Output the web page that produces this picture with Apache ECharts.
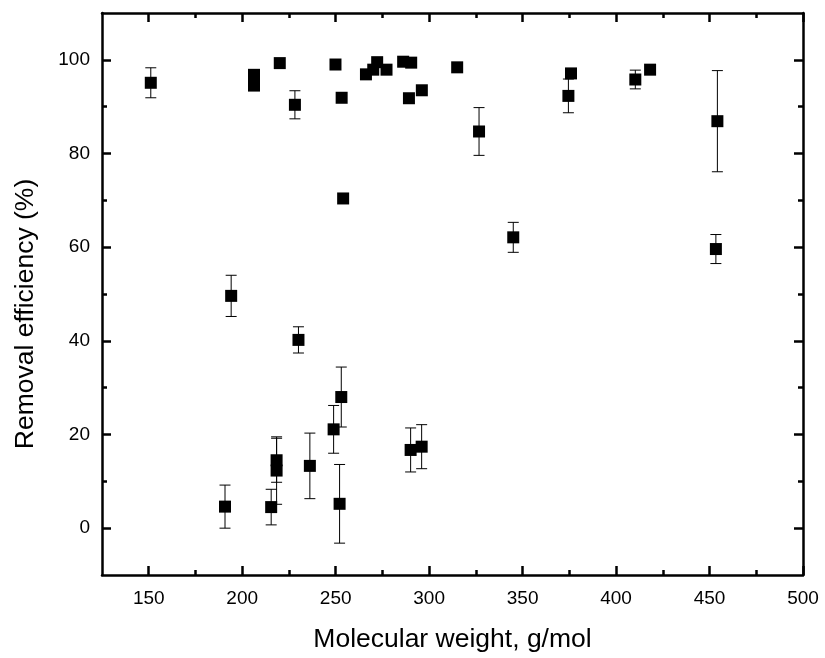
<!DOCTYPE html>
<html>
<head>
<meta charset="utf-8">
<script src="https://cdn.jsdelivr.net/npm/echarts@6/dist/echarts.min.js"></script>
<style>html,body{margin:0;padding:0;background:#fff}#c{width:825px;height:658px}</style>
</head>
<body>
<div id="c"></div>
<script>
// Molecular weight (g/mol)
const mw = [151.1, 206.3, 206.3, 220.1, 228.2, 249.9, 253.2, 254.0, 266.2, 270.1, 272.2, 277.2, 286.1, 290.4, 289.2, 296.1, 315.0, 326.7, 345.0, 375.9, 374.5, 410.3, 418.2, 454.2, 453.4, 194.1, 230.1, 253.0, 248.9, 218.4, 218.4, 190.8, 215.5, 236.2, 252.1, 290.1, 296.0];
// Removal efficiency (%)
const removal = [95.1, 96.8, 94.5, 99.3, 90.4, 99.0, 91.9, 70.4, 96.9, 97.9, 99.5, 97.9, 99.6, 99.4, 91.8, 93.5, 98.4, 84.7, 62.1, 97.1, 92.3, 95.8, 97.9, 86.9, 59.6, 49.6, 40.2, 28.0, 21.1, 14.5, 12.3, 4.6, 4.5, 13.3, 5.2, 16.7, 17.4];
// Error (± %)
const errs = [3.2, 1.0, 1.0, 0, 3.0, 0, 0, 0, 0, 0, 0, 0, 0, 0, 0, 0, 0, 5.1, 3.2, 0, 3.6, 2.0, 0, 10.8, 3.1, 4.4, 2.8, 6.4, 5.1, 4.7, 7.2, 4.6, 3.8, 7.0, 8.4, 4.7, 4.7];

const xMajorTicks = [150, 200, 250, 300, 350, 400, 450, 500];
const xMinorTicks = [175, 225, 275, 325, 375, 425, 475];
const yMajorTicks = [0, 20, 40, 60, 80, 100];
const yMinorTicks = [10, 30, 50, 70, 90];

const FONT = "'Liberation Sans', Arial, Helvetica, sans-serif";
const points = mw.map((x, i) => [x, removal[i]]);
const errData = mw.map((x, i) => [x, removal[i] - errs[i], removal[i] + errs[i]]).filter((d, i) => errs[i] > 0);

const gridPos = {left: 102, right: 22, top: 13, bottom: 83, containLabel: false};
const lineStyle = {color: '#000', width: 2.5};
const MAJOR = -9, MINOR = -5;

function majorX(pos, showLabel, extra) {
  return Object.assign({
    type: 'value', gridIndex: 0, position: pos, min: 125, max: 500,
    axisLine: {show: true, onZero: false, lineStyle: lineStyle},
    axisTick: {show: true, inside: false, length: MAJOR, lineStyle: {color: '#000', width: 2.5}, customValues: xMajorTicks},
    axisLabel: {show: showLabel, customValues: xMajorTicks, color: '#000', fontSize: 19, fontFamily: FONT, margin: 14},
    splitLine: {show: false}
  }, extra || {});
}
function minorX(pos) {
  return {
    type: 'value', gridIndex: 1, position: pos, min: 125, max: 500,
    axisLine: {show: false, onZero: false},
    axisTick: {show: true, inside: false, length: MINOR, lineStyle: {color: '#000', width: 2.5}, customValues: xMinorTicks},
    axisLabel: {show: false, customValues: xMinorTicks},
    splitLine: {show: false}
  };
}
function majorY(pos, showLabel, extra) {
  return Object.assign({
    type: 'value', gridIndex: 0, position: pos, min: -10, max: 110,
    axisLine: {show: true, onZero: false, lineStyle: lineStyle},
    axisTick: {show: true, inside: false, length: MAJOR, lineStyle: {color: '#000', width: 2.5}, customValues: yMajorTicks},
    axisLabel: {show: showLabel, customValues: yMajorTicks, color: '#000', fontSize: 19, fontFamily: FONT, margin: 12},
    splitLine: {show: false}
  }, extra || {});
}
function minorY(pos) {
  return {
    type: 'value', gridIndex: 1, position: pos, min: -10, max: 110,
    axisLine: {show: false, onZero: false},
    axisTick: {show: true, inside: false, length: MINOR, lineStyle: {color: '#000', width: 2.5}, customValues: yMinorTicks},
    axisLabel: {show: false, customValues: yMinorTicks},
    splitLine: {show: false}
  };
}

const chart = echarts.init(document.getElementById('c'), null, {renderer: 'canvas'});
chart.setOption({
  animation: false,
  backgroundColor: '#fff',
  grid: [Object.assign({}, gridPos), Object.assign({}, gridPos)],
  xAxis: [
    majorX('bottom', true, {name: 'Molecular weight, g/mol', nameLocation: 'middle', nameGap: 51,
      nameTextStyle: {fontSize: 26.5, fontFamily: FONT, color: '#000'}}),
    majorX('top', false),
    minorX('bottom'),
    minorX('top')
  ],
  yAxis: [
    majorY('left', true, {name: 'Removal efficiency (%)', nameLocation: 'middle', nameGap: 63,
      nameTextStyle: {fontSize: 26.5, fontFamily: FONT, color: '#000', padding: [0, 40, 0, 0]}}),
    majorY('right', false),
    minorY('left'),
    minorY('right')
  ],
  series: [
    {
      type: 'custom',
      xAxisIndex: 0, yAxisIndex: 0,
      data: errData,
      renderItem: function (params, api) {
        const x = api.value(0);
        const lo = api.coord([x, api.value(1)]);
        const hi = api.coord([x, api.value(2)]);
        const hw = 5.5;
        const st = {stroke: '#000', lineWidth: 1};
        return {
          type: 'group',
          children: [
            {type: 'line', shape: {x1: lo[0], y1: lo[1], x2: hi[0], y2: hi[1]}, style: st},
            {type: 'line', shape: {x1: hi[0] - hw, y1: hi[1], x2: hi[0] + hw, y2: hi[1]}, style: st},
            {type: 'line', shape: {x1: lo[0] - hw, y1: lo[1], x2: lo[0] + hw, y2: lo[1]}, style: st}
          ]
        };
      },
      z: 2
    },
    {
      type: 'scatter',
      xAxisIndex: 0, yAxisIndex: 0,
      symbol: 'rect',
      symbolSize: 12,
      itemStyle: {color: '#000', opacity: 1},
      data: points,
      z: 3
    }
  ]
});
</script>
</body>
</html>
